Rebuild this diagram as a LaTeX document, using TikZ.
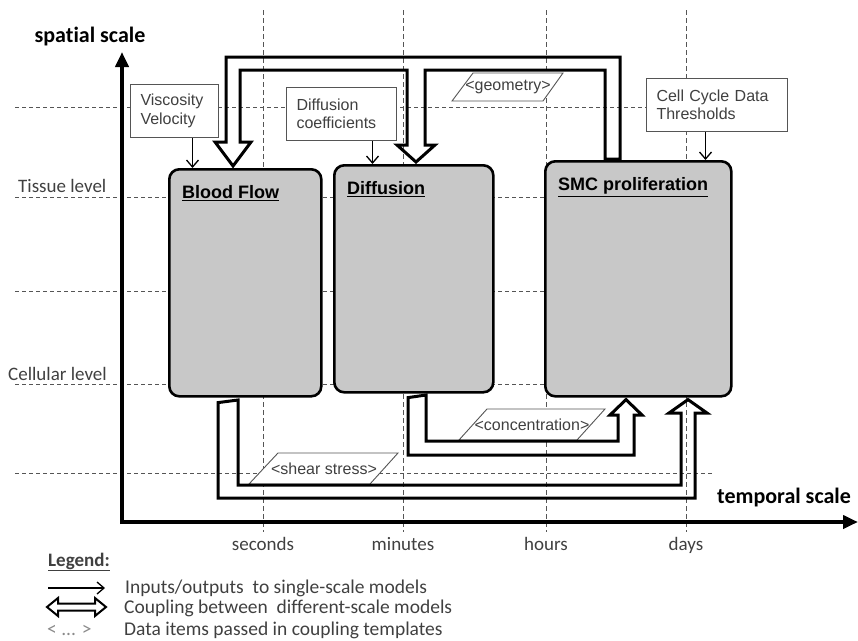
\documentclass[tikz,border=0pt]{standalone}
\usepackage{fontspec}
\setmainfont{Carlito}[Ligatures=NoCommon]
\newfontfamily\arialf{Liberation Sans}
\usetikzlibrary{arrows.meta,calc}
\definecolor{txtgrey}{HTML}{404040}
\definecolor{gridgrey}{HTML}{555555}
\definecolor{boxfill}{HTML}{C8C8C8}
\definecolor{lightgrey}{HTML}{8A8A8A}
\begin{document}
\begin{tikzpicture}[x=1pt,y=-1pt,
 gridline/.style={draw=gridgrey,line width=0.9pt,dash pattern=on 4pt off 3pt},
 vgridline/.style={draw=gridgrey,line width=0.9pt,dash pattern=on 5pt off 3pt},
 axis/.style={line width=4pt,-{Triangle[length=15pt,width=13pt]}},
 model/.style={draw=black,line width=2.6pt,fill=boxfill,rounded corners=10pt,anchor=north west,inner sep=0pt},
 mtitle/.style={font=\arialf\bfseries\fontsize{18}{20}\selectfont,anchor=west,inner sep=0pt},
 inbox/.style={draw=gridgrey,line width=1pt,fill=white,anchor=north west,font=\arialf\fontsize{16}{18.5}\selectfont,text=txtgrey,align=left,inner xsep=10pt,minimum height=53pt},
 inarrow/.style={line width=1.3pt,-{Straight Barb[length=7pt,width=12pt]}},
 coupling/.style={draw=black,line width=3pt,line join=miter},
 dataitem/.style={draw=gridgrey,line width=0.9pt,fill=white},
 datatext/.style={font=\arialf\fontsize{16}{18}\selectfont,text=txtgrey,inner sep=0pt},
 axlabel/.style={font=\fontsize{19}{22}\selectfont,text=txtgrey,inner sep=0pt},
 axtitle/.style={font=\bfseries\fontsize{22}{26}\selectfont,inner sep=0pt},
 legtext/.style={font=\fontsize{19.5}{21}\selectfont,text=txtgrey,anchor=west,inner sep=0pt},
]
\useasboundingbox (0,0) rectangle (858,640);

% grid
\foreach \yy in {107,197,291,384} \draw[gridline] (15,\yy) -- (720,\yy);
\draw[gridline] (15,473) -- (712,473);
\foreach \xx in {263,403,546,686} \draw[vgridline] (\xx,10) -- (\xx,532);

% axis labels
\node[axlabel,anchor=base] (sec) at (263,550) {seconds};
\node[axlabel,anchor=base] (min) at (403,550) {minutes};
\node[axlabel,anchor=base] (hrs) at (546,550) {hours};
\node[axlabel,anchor=base] (day) at (686,550) {days};
\node[axlabel,anchor=west] (tis) at (18,186) {Tissue level};
\node[axlabel,anchor=west] (cel) at (8,374) {Cellular level};

% axes
\coordinate (yorig) at (122,524);
\coordinate (ytip) at (122,52);
\coordinate (xorig) at (120,522);
\coordinate (xtip) at (858,522);
\draw[axis] (yorig) -- (ytip);
\draw[axis] (xorig) -- (xtip);
\node[axtitle] (sp) at (90,37) {spatial scale};
\node[axtitle,anchor=west,fill=white,inner sep=3pt] (tp) at (714,498) {temporal scale};

% models
\node[model,minimum width=152pt,minimum height=227pt] (bf) at (168,168) {};
\node[model,minimum width=159pt,minimum height=227pt] (dif) at (333,164) {};
\node[model,minimum width=186pt,minimum height=235pt] (smc) at (544,160) {};
\node[mtitle] (bft) at (182,193) {\underline{Blood Flow}};
\node[mtitle] (dift) at (347,189) {\underline{Diffusion}};
\node[mtitle] (smct) at (558,187) {\underline{SMC proliferation}};

% inputs
\node[inbox,text width=68pt] (visc) at (130,84) {Viscosity\\Velocity};
\node[inbox,text width=90pt] (dcoef) at (286,87) {Diffusion\\coefficients};
\node[inbox,text width=121pt] (cc) at (646,78) {Cell Cycle Data\\Thresholds};
\draw[inarrow] ([xshift=18pt]visc.south) -- ([xshift=18pt]visc.south |- bf.north);
\draw[inarrow] ([xshift=31pt]dcoef.south) -- ([xshift=31pt]dcoef.south |- dif.north);
\draw[inarrow] ([xshift=-11.5pt]cc.south) -- ([xshift=-11.5pt]cc.south |- smc.north);

% data items
\draw[dataitem] (452,101) -- (473,73) -- (563,73) -- (543,101) -- cycle;
\node[datatext] (geo) at (508,87) {<geometry>};
\draw[dataitem] (249,484) -- (278,453) -- (398,453) -- (370,484) -- cycle;
\node[datatext] (shear) at (324,469) {<shear stress>};
\draw[dataitem] (459,440) -- (487,409) -- (605,409) -- (577,440) -- cycle;
\node[datatext] (conc) at (532,425) {<concentration>};

% couplings
\coordinate (tipbf) at ($(bf.north west)+(65,-2)$);
\coordinate (tipdif) at ($(dif.north west)+(83,-2)$);
\coordinate (srcsmc) at ($(smc.north west)+(61,-1)$);
\draw[coupling] (srcsmc) -- (605,70) -- (425,70) -- (425,145) -- (435,145) -- (tipdif)
  -- (397,145) -- (407,145) -- (407,70) -- (240,70) -- (240,142) -- (251,142) -- (tipbf)
  -- (215,142) -- (226,142) -- (226,57) -- (620,57) -- (620,159) -- cycle;

\coordinate (srcdif) at ($(dif.south west)+(75,4)$);
\coordinate (tipsmc1) at ($(smc.south west)+(82,2)$);
\draw[coupling] (srcdif) -- (408,455) -- (634,455) -- (634,415) -- (642,415) -- (tipsmc1)
  -- (610,415) -- (618,415) -- (618,441) -- (426,441) -- (426,395) -- cycle;

\coordinate (srcbf) at ($(bf.south west)+(50,5)$);
\coordinate (tipsmc2) at ($(smc.south west)+(144,2)$);
\draw[coupling] (srcbf) -- (218,498) -- (695,498) -- (695,413) -- (707,413) -- (tipsmc2)
  -- (669,413) -- (681,413) -- (681,485) -- (238,485) -- (238,400) -- cycle;

% legend
\node[font=\bfseries\fontsize{19}{21}\selectfont,anchor=west,inner sep=0pt,text=txtgrey] (leg) at (48,562) {\underline{Legend:}};
\coordinate (la1) at (48,588);
\coordinate (la2) at (105,588);
\draw[inarrow] (la1) -- (la2);
\draw[line width=2pt,line join=miter] (47,607) -- (58,598) -- (58,603.5) -- (95,603.5) -- (95,598) -- (106,607)
  -- (95,616) -- (95,610.5) -- (58,610.5) -- (58,616) -- cycle;
\node[legtext,text=lightgrey] (ld) at (47,630) {< ... >};
\node[legtext] (l1) at (125,588) {Inputs/outputs~ to single-scale models};
\node[legtext] (l2) at (124,608) {Coupling between~ different-scale models};
\node[legtext] (l3) at (124,630) {Data items passed in coupling templates};
\end{tikzpicture}
\end{document}
